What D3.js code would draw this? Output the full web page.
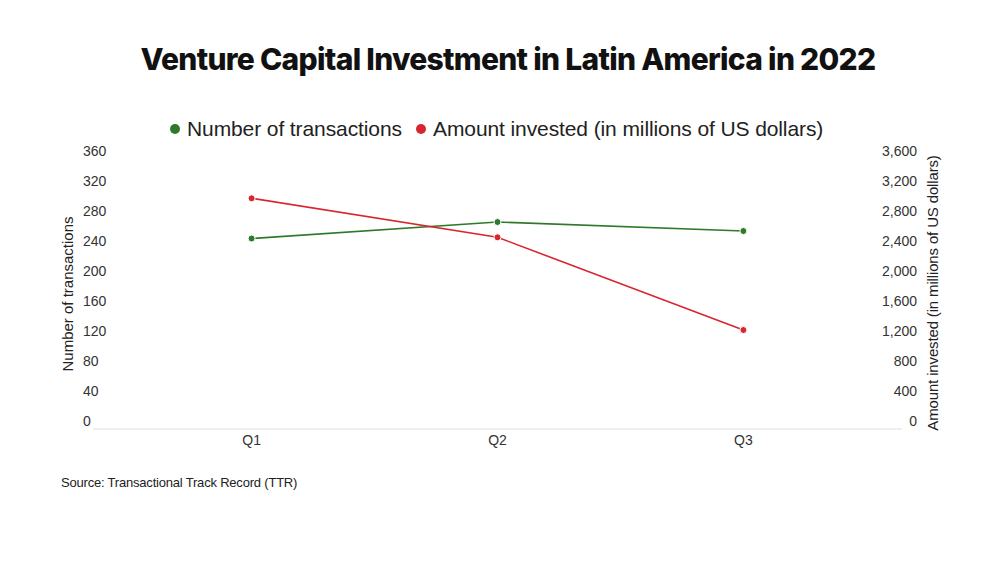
<!DOCTYPE html>
<html>
<head>
<meta charset="utf-8">
<script src="https://cdn.jsdelivr.net/npm/d3@7"></script>
<style>
  body { margin: 0; background: #fff; }
  svg { display: block; }
  text { font-family: "Liberation Sans", Arial, sans-serif; fill: #222; }
</style>
</head>
<body>
<svg class="chart" width="1000" height="562"></svg>
<script>
// data
var quarters = ["Q1", "Q2", "Q3"];
var transactions = [254, 276, 264];
var invested = [3076, 2556, 1320];
var leftTicks = [0, 40, 80, 120, 160, 200, 240, 280, 320, 360];
var rightTicks = [0, 400, 800, 1200, 1600, 2000, 2400, 2800, 3200, 3600];

var green = "#2f7a2a", red = "#d8262f";

var svg = d3.select("svg.chart");
var plot = {left: 93, right: 902, top: 159, bottom: 429};

var x = d3.scalePoint()
  .domain(quarters)
  .range([plot.left, plot.right])
  .padding(0.645);
var yL = d3.scaleLinear().domain([0, 360]).range([plot.bottom, plot.top]);
var yR = d3.scaleLinear().domain([0, 3600]).range([plot.bottom, plot.top]);

// title
svg.append("text")
  .attr("x", 508).attr("y", 70)
  .attr("text-anchor", "middle")
  .style("font-family", "Inter, 'Liberation Sans', sans-serif")
  .style("font-weight", 800)
  .style("font-size", "30px")
  .style("letter-spacing", "-0.7px")
  .style("fill", "#111")
  .text("Venture Capital Investment in Latin America in 2022");

// legend
var legend = [
  {label: "Number of transactions", color: green, x: 175},
  {label: "Amount invested (in millions of US dollars)", color: red, x: 421}
];
var lg = svg.append("g").selectAll("g").data(legend).enter().append("g");
lg.append("circle")
  .attr("cx", function(d) { return d.x; }).attr("cy", 129)
  .attr("r", 5).attr("fill", function(d) { return d.color; });
lg.append("text")
  .attr("x", function(d) { return d.x + 12; }).attr("y", 136)
  .style("font-size", "21px")
  .style("letter-spacing", "-0.1px")
  .text(function(d) { return d.label; });

// left ticks (labels sit just above the tick position)
svg.append("g").selectAll("text").data(leftTicks).enter().append("text")
  .attr("x", 83).attr("y", function(d) { return yL(d) - 3; })
  .style("font-size", "14px")
  .style("fill", "#333")
  .text(function(d) { return d; });

svg.append("g").selectAll("text").data(rightTicks).enter().append("text")
  .attr("x", 917).attr("y", function(d) { return yR(d) - 3; })
  .attr("text-anchor", "end")
  .style("font-size", "14px")
  .style("fill", "#333")
  .text(function(d) { return d3.format(",")(d); });

// baseline
svg.append("line")
  .attr("x1", plot.left).attr("x2", plot.right)
  .attr("y1", yL(0)).attr("y2", yL(0))
  .attr("stroke", "#ddd").attr("stroke-width", 1);

// x axis labels
svg.append("g").selectAll("text").data(quarters).enter().append("text")
  .attr("x", function(d) { return x(d); }).attr("y", 445)
  .attr("text-anchor", "middle")
  .style("font-size", "14px")
  .style("fill", "#333")
  .text(function(d) { return d; });

// axis titles
svg.append("text")
  .attr("transform", "translate(73,294) rotate(-90)")
  .attr("text-anchor", "middle")
  .style("font-size", "15px")
  .text("Number of transactions");
svg.append("text")
  .attr("transform", "translate(938,293) rotate(-90)")
  .attr("text-anchor", "middle")
  .style("font-size", "15px")
  .style("letter-spacing", "-0.15px")
  .text("Amount invested (in millions of US dollars)");

// lines
var lineL = d3.line()
  .x(function(d, i) { return x(quarters[i]); })
  .y(function(d) { return yL(d); });
var lineR = d3.line()
  .x(function(d, i) { return x(quarters[i]); })
  .y(function(d) { return yR(d); });

svg.append("path").datum(transactions)
  .attr("d", lineL).attr("fill", "none")
  .attr("stroke", green).attr("stroke-width", 1.6);
svg.append("path").datum(invested)
  .attr("d", lineR).attr("fill", "none")
  .attr("stroke", red).attr("stroke-width", 1.6);

svg.append("g").selectAll("circle").data(transactions).enter().append("circle")
  .attr("cx", function(d, i) { return x(quarters[i]); })
  .attr("cy", function(d) { return yL(d); })
  .attr("r", 3.5).attr("fill", green)
  .attr("stroke", "#fff").attr("stroke-width", 1);
svg.append("g").selectAll("circle").data(invested).enter().append("circle")
  .attr("cx", function(d, i) { return x(quarters[i]); })
  .attr("cy", function(d) { return yR(d); })
  .attr("r", 3.5).attr("fill", red)
  .attr("stroke", "#fff").attr("stroke-width", 1);

// source
svg.append("text")
  .attr("x", 61).attr("y", 487)
  .style("font-size", "13px")
  .style("letter-spacing", "-0.2px")
  .text("Source: Transactional Track Record (TTR)");
</script>
</body>
</html>
